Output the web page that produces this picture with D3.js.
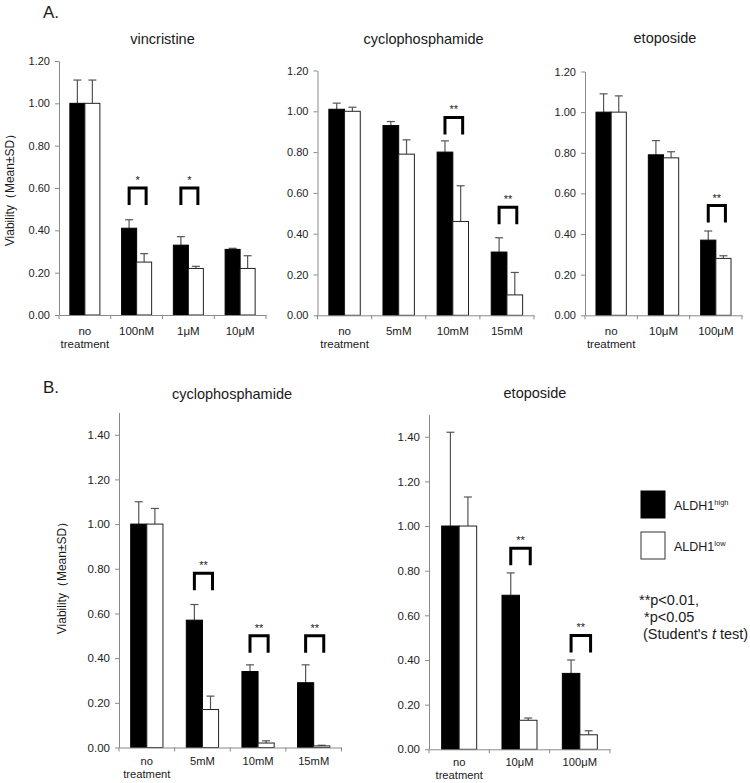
<!DOCTYPE html>
<html>
<head>
<meta charset="utf-8">
<script src="https://cdn.jsdelivr.net/npm/d3@7"></script>
<style>
  html, body { margin: 0; padding: 0; background: #fff; }
  svg { display: block; }
  text { font-family: 'Liberation Sans', Arial, Helvetica, sans-serif; }
</style>
</head>
<body>
<svg id="chart" width="750" height="783"></svg>
<script>
// ---------------- DATA ----------------
const seriesNames = ["ALDH1high", "ALDH1low"];

const vincCats = ["no\ntreatment", "100nM", "1μM", "10μM"];
const vincHigh = [1.00, 0.41, 0.33, 0.31];
const vincHighSD = [0.11, 0.04, 0.04, 0.005];
const vincLow = [1.00, 0.25, 0.22, 0.22];
const vincLowSD = [0.11, 0.04, 0.01, 0.06];
const vincSig = ["", "*", "*", ""];
const vincSigLevel = [null, 0.60, 0.60, null];

const cycACats = ["no\ntreatment", "5mM", "10mM", "15mM"];
const cycAHigh = [1.01, 0.93, 0.80, 0.31];
const cycAHighSD = [0.03, 0.02, 0.055, 0.07];
const cycALow = [1.00, 0.79, 0.46, 0.10];
const cycALowSD = [0.02, 0.07, 0.175, 0.11];
const cycASig = ["", "", "**", "**"];
const cycASigLevel = [null, null, 0.97, 0.53];

const etoACats = ["no\ntreatment", "10μM", "100μM"];
const etoAHigh = [1.00, 0.79, 0.37];
const etoAHighSD = [0.09, 0.07, 0.045];
const etoALow = [1.00, 0.775, 0.28];
const etoALowSD = [0.08, 0.03, 0.013];
const etoASig = ["", "", "**"];
const etoASigLevel = [null, null, 0.54];

const cycBCats = ["no\ntreatment", "5mM", "10mM", "15mM"];
const cycBHigh = [1.00, 0.57, 0.34, 0.29];
const cycBHighSD = [0.10, 0.07, 0.03, 0.08];
const cycBLow = [1.00, 0.17, 0.02, 0.007];
const cycBLowSD = [0.07, 0.06, 0.01, 0.003];
const cycBSig = ["", "**", "**", "**"];
const cycBSigLevel = [null, 0.78, 0.50, 0.50];

const etoBCats = ["no\ntreatment", "10μM", "100μM"];
const etoBHigh = [1.00, 0.69, 0.34];
const etoBHighSD = [0.42, 0.10, 0.06];
const etoBLow = [1.00, 0.13, 0.065];
const etoBLowSD = [0.13, 0.01, 0.018];
const etoBSig = ["", "**", "**"];
const etoBSigLevel = [null, 0.90, 0.51];

const ticksA = [0, 0.2, 0.4, 0.6, 0.8, 1.0, 1.2];
const ticksB = [0, 0.2, 0.4, 0.6, 0.8, 1.0, 1.2, 1.4];
const yLabel = "Viability（Mean±SD）";
const legendLabels = [["ALDH1", "high"], ["ALDH1", "low"]];
const noteLines = ["**p<0.01,", "*p<0.05"];

// ---------------- LAYOUT ----------------
const svg = d3.select("#chart");
const AXIS = "#8a8a8a";
const TXT = "#1a1a1a";

const panels = [
  { title: "vincristine", cats: vincCats, high: vincHigh, highSD: vincHighSD, low: vincLow, lowSD: vincLowSD, sig: vincSig, sigLevel: vincSigLevel,
    x0: 59, x1: 266, base: 315, top: 61, ymax: 1.2, ticks: ticksA, tx: 162.5, ty: 44, tickFont: 11, catFont: 11.5, lab1: 20, lab2: 12.5 },
  { title: "cyclophosphamide", cats: cycACats, high: cycAHigh, highSD: cycAHighSD, low: cycALow, lowSD: cycALowSD, sig: cycASig, sigLevel: cycASigLevel,
    x0: 317.5, x1: 534, base: 315.3, top: 70.5, ymax: 1.2, ticks: ticksA, tx: 423.5, ty: 44, tickFont: 11, catFont: 11.5, lab1: 20, lab2: 12.5 },
  { title: "etoposide", cats: etoACats, high: etoAHigh, highSD: etoAHighSD, low: etoALow, lowSD: etoALowSD, sig: etoASig, sigLevel: etoASigLevel,
    x0: 585, x1: 742, base: 315.3, top: 71.5, ymax: 1.2, ticks: ticksA, tx: 665, ty: 43, tickFont: 11, catFont: 11.5, lab1: 20, lab2: 12.5 },
  { title: "cyclophosphamide", cats: cycBCats, high: cycBHigh, highSD: cycBHighSD, low: cycBLow, lowSD: cycBLowSD, sig: cycBSig, sigLevel: cycBSigLevel,
    x0: 119, x1: 341.5, base: 747.5, top: 412.4, ymax: 1.5, ticks: ticksB, tx: 232, ty: 399, tickFont: 11.5, catFont: 11.2, lab1: 17.5, lab2: 12.8 },
  { title: "etoposide", cats: etoBCats, high: etoBHigh, highSD: etoBHighSD, low: etoBLow, lowSD: etoBLowSD, sig: etoBSig, sigLevel: etoBSigLevel,
    x0: 429, x1: 610, base: 749.3, top: 414.4, ymax: 1.5, ticks: ticksB, tx: 535, ty: 398, tickFont: 11.5, catFont: 11.2, lab1: 16.5, lab2: 12.8 }
];

function drawPanel(p) {
  const g = svg.append("g");
  const x = d3.scaleBand().domain(p.cats).range([p.x0, p.x1]).paddingInner(0).paddingOuter(0);
  const y = d3.scaleLinear().domain([0, p.ymax]).range([p.base, p.top]);
  const bw = x.bandwidth() * 0.29;
  const xs = d3.scaleBand().domain(seriesNames).range([0, 2 * bw]);
  const off = (x.bandwidth() - 2 * bw) / 2;

  const rows = [];
  p.cats.forEach((c, i) => {
    rows.push({ cat: c, s: seriesNames[0], v: p.high[i], sd: p.highSD[i] });
    rows.push({ cat: c, s: seriesNames[1], v: p.low[i], sd: p.lowSD[i] });
  });
  const cx = d => x(d.cat) + off + xs(d.s) + xs.bandwidth() / 2;

  // error bars (upper only)
  const eb = g.append("g").attr("stroke", "#555").attr("stroke-width", 1.2);
  eb.selectAll("line.v").data(rows).join("line")
    .attr("x1", cx).attr("x2", cx)
    .attr("y1", d => y(d.v)).attr("y2", d => y(d.v + d.sd));
  eb.selectAll("line.c").data(rows).join("line")
    .attr("x1", d => cx(d) - 4).attr("x2", d => cx(d) + 4)
    .attr("y1", d => y(d.v + d.sd)).attr("y2", d => y(d.v + d.sd));

  // bars
  g.append("g").selectAll("rect").data(rows).join("rect")
    .attr("x", d => x(d.cat) + off + xs(d.s))
    .attr("width", xs.bandwidth())
    .attr("y", d => y(d.v))
    .attr("height", d => y(0) - y(d.v))
    .attr("fill", d => d.s === seriesNames[0] ? "#000" : "#fff")
    .attr("stroke", d => d.s === seriesNames[0] ? "#000" : "#222")
    .attr("stroke-width", 1);

  // y axis
  const ya = g.append("g").attr("transform", `translate(${p.x0},0)`)
    .call(d3.axisLeft(y).tickValues(p.ticks).tickFormat(d3.format(".2f")).tickSize(4).tickSizeOuter(0).tickPadding(5));
  ya.select(".domain").attr("stroke", AXIS);
  ya.selectAll(".tick line").attr("stroke", AXIS);
  ya.selectAll(".tick text").attr("fill", "#222").style("font-size", p.tickFont + "px")
    .style("font-family", "'Liberation Sans', Arial, sans-serif");

  // x axis line + boundary ticks
  const xa = g.append("g").attr("transform", `translate(0,${p.base})`)
    .call(d3.axisBottom(x).tickSize(0).tickFormat("").tickSizeOuter(0));
  xa.select(".domain").attr("stroke", AXIS);
  const bounds = p.cats.map(c => x(c)).concat([x.range()[1]]);
  g.append("g").selectAll("line").data(bounds).join("line")
    .attr("x1", d => d).attr("x2", d => d)
    .attr("y1", p.base).attr("y2", p.base + 4)
    .attr("stroke", AXIS).attr("stroke-width", 1);

  // category labels (each line its own text element)
  const lab = g.append("g");
  p.cats.forEach(d => {
    d.split("\n").forEach((s, k) => {
      lab.append("text")
        .attr("x", x(d) + x.bandwidth() / 2)
        .attr("y", p.base + p.lab1 + k * p.lab2)
        .attr("text-anchor", "middle")
        .attr("fill", TXT)
        .style("font-size", p.catFont + "px")
        .text(s);
    });
  });

  // significance brackets
  p.cats.forEach((c, i) => {
    if (!p.sig[i]) return;
    const xl = x(c) + off + xs.bandwidth() / 2;
    const xr = x(c) + off + xs(seriesNames[1]) + xs.bandwidth() / 2 + 2;
    const yt = y(p.sigLevel[i]);
    g.append("path")
      .attr("d", `M${xl},${yt + 17}V${yt}H${xr}V${yt + 17}`)
      .attr("fill", "none").attr("stroke", "#000").attr("stroke-width", 3)
      .attr("stroke-linejoin", "miter").attr("stroke-linecap", "butt");
    g.append("text").attr("x", (xl + xr) / 2).attr("y", yt - 4)
      .attr("text-anchor", "middle").attr("fill", TXT).style("font-size", "11px")
      .text(p.sig[i]);
  });

  // title
  g.append("text").attr("x", p.tx).attr("y", p.ty).attr("text-anchor", "middle")
    .attr("fill", TXT).style("font-size", "14.5px").text(p.title);
}

panels.forEach(drawPanel);

// section letters
svg.append("text").attr("x", 43).attr("y", 18).attr("fill", TXT).style("font-size", "17px").text("A.");
svg.append("text").attr("x", 43).attr("y", 393).attr("fill", TXT).style("font-size", "17px").text("B.");

// y labels
[[10, 187], [62, 575]].forEach(([lx, ly]) => {
  svg.append("text")
    .attr("transform", `translate(${lx + 4},${ly}) rotate(-90)`)
    .attr("text-anchor", "middle").attr("fill", TXT).style("font-size", "12px")
    .text(yLabel);
});

// legend
const lg = svg.append("g");
const legY = [491, 532];
legendLabels.forEach((lab, i) => {
  lg.append("rect").attr("x", 641).attr("y", legY[i]).attr("width", 24).attr("height", 27)
    .attr("fill", i === 0 ? "#000" : "#fff").attr("stroke", i === 0 ? "#000" : "#333").attr("stroke-width", 1);
  const t = lg.append("text").attr("x", 674).attr("y", legY[i] + 19).attr("fill", TXT).style("font-size", "12.5px");
  t.append("tspan").text(lab[0]);
  t.append("tspan").attr("dy", -5).style("font-size", "7.5px").text(lab[1]);
});

// notes
svg.append("text").attr("x", 639).attr("y", 605).attr("fill", TXT).style("font-size", "14.5px").text(noteLines[0]);
svg.append("text").attr("x", 644).attr("y", 622).attr("fill", TXT).style("font-size", "14.5px").text(noteLines[1]);
const st = svg.append("text").attr("x", 643).attr("y", 639).attr("fill", TXT).style("font-size", "14.5px");
st.append("tspan").text("(Student's ");
st.append("tspan").style("font-style", "italic").text("t");
st.append("tspan").text(" test)");
</script>
</body>
</html>
